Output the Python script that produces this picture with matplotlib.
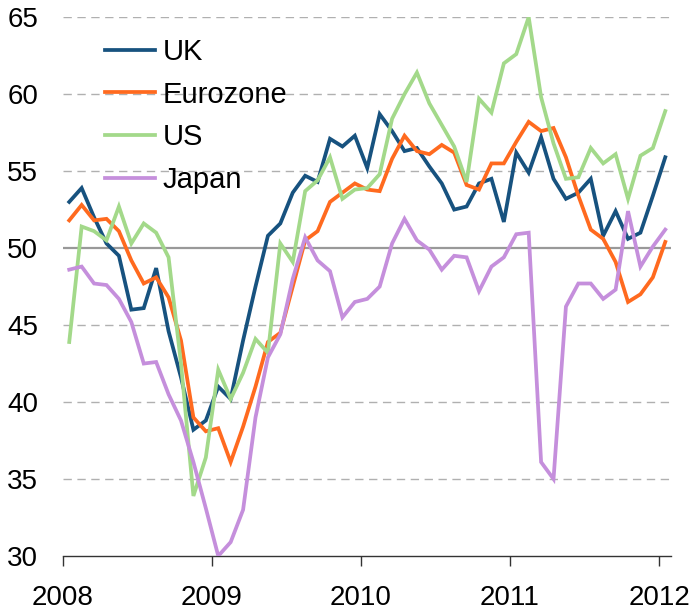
import matplotlib
matplotlib.use("Agg")
import matplotlib.pyplot as plt
import numpy as np

plt.rcParams['font.family'] = ['Liberation Sans', 'DejaVu Sans']

# monthly PMI readings, Jan 2008 .. Jan 2012
uk = [53.0, 53.9, 52.0, 50.3, 49.5, 46.0, 46.1, 48.7, 44.6, 41.6, 38.2, 38.8,
      41.0, 40.2, 44.0, 47.5, 50.8, 51.6, 53.6, 54.7, 54.3, 57.1, 56.6, 57.3,
      55.2, 58.7, 57.6, 56.3, 56.5, 55.3, 54.2, 52.5, 52.7, 54.2, 54.5, 51.7,
      56.2, 54.9, 57.2, 54.5, 53.2, 53.6, 54.5, 50.8, 52.4, 50.6, 51.0, 53.4,
      55.9]
eurozone = [51.8, 52.8, 51.8, 51.9, 51.1, 49.2, 47.7, 48.1, 46.8, 44.0, 39.0, 38.1,
            38.3, 36.1, 38.4, 41.0, 43.9, 44.5, 47.5, 50.5, 51.1, 53.0, 53.6, 54.2,
            53.8, 53.7, 55.8, 57.3, 56.3, 56.1, 56.7, 56.2, 54.1, 53.8, 55.5, 55.5,
            56.9, 58.2, 57.6, 57.8, 55.9, 53.4, 51.2, 50.6, 49.1, 46.5, 47.0, 48.1,
            50.4]
us = [43.9, 51.4, 51.1, 50.5, 52.7, 50.3, 51.6, 51.0, 49.4, 42.5, 33.9, 36.4,
      42.1, 40.2, 41.9, 44.1, 43.2, 50.3, 49.1, 53.7, 54.4, 55.9, 53.2, 53.8,
      53.9, 54.8, 58.4, 60.0, 61.4, 59.4, 58.0, 56.6, 54.3, 59.7, 58.8, 62.0,
      62.6, 65.0, 59.8, 56.8, 54.5, 54.6, 56.5, 55.5, 56.1, 53.2, 56.0, 56.5,
      58.9]
japan = [48.6, 48.8, 47.7, 47.6, 46.7, 45.2, 42.5, 42.6, 40.5, 38.8, 36.1, 33.1,
         30.0, 30.9, 33.0, 39.0, 42.9, 44.4, 48.0, 50.7, 49.2, 48.5, 45.5, 46.5,
         46.7, 47.5, 50.3, 51.9, 50.5, 49.9, 48.6, 49.5, 49.4, 47.2, 48.8, 49.4,
         50.9, 51.0, 36.1, 35.0, 46.2, 47.7, 47.7, 46.7, 47.3, 52.4, 48.8, 50.1,
         51.2]
labels = ["UK", "Eurozone", "US", "Japan"]
colors = ["#17527f", "#ff6a1f", "#a3d98a", "#c58fdc"]
years = [2008, 2009, 2010, 2011, 2012]

x = 2008 + (np.arange(len(uk)) + 0.5) / 12

fig = plt.figure(figsize=(6.98, 6.13), dpi=100)
ax = fig.add_axes([0.0903, 0.093, 0.871, 0.879])

for yv in [35, 40, 45, 55, 60, 65]:
    ax.axhline(yv, color="#b0b0b0", lw=1.0, ls=(0, (6, 4)), zorder=1)
ax.axhline(50, color="#999999", lw=1.6, zorder=1)

for s, lab, c in zip([uk, eurozone, us, japan], labels, colors):
    ax.plot(x, s, color=c, lw=2.7, label=lab, zorder=3, solid_joinstyle="miter")

ax.set_xlim(2008, 2012.08)
ax.set_ylim(30, 65)
ax.set_xticks(years)
ax.set_xticklabels([str(y) for y in years])
ax.set_yticks([30, 35, 40, 45, 50, 55, 60, 65])

for sp in ["top", "right", "left"]:
    ax.spines[sp].set_visible(False)
ax.spines["bottom"].set_color("#333333")
ax.spines["bottom"].set_linewidth(1.0)

ax.tick_params(axis="x", direction="out", length=7, width=1, color="#333333",
               labelsize=20, pad=14)
ax.tick_params(axis="y", length=0, labelsize=20, pad=18)

leg = ax.legend(loc="upper left", bbox_to_anchor=(0.05, 0.983), frameon=False,
                fontsize=21, handlelength=1.7, handletextpad=0.28,
                labelspacing=0.5, borderaxespad=0)

fig.savefig("out.png", dpi=100)
